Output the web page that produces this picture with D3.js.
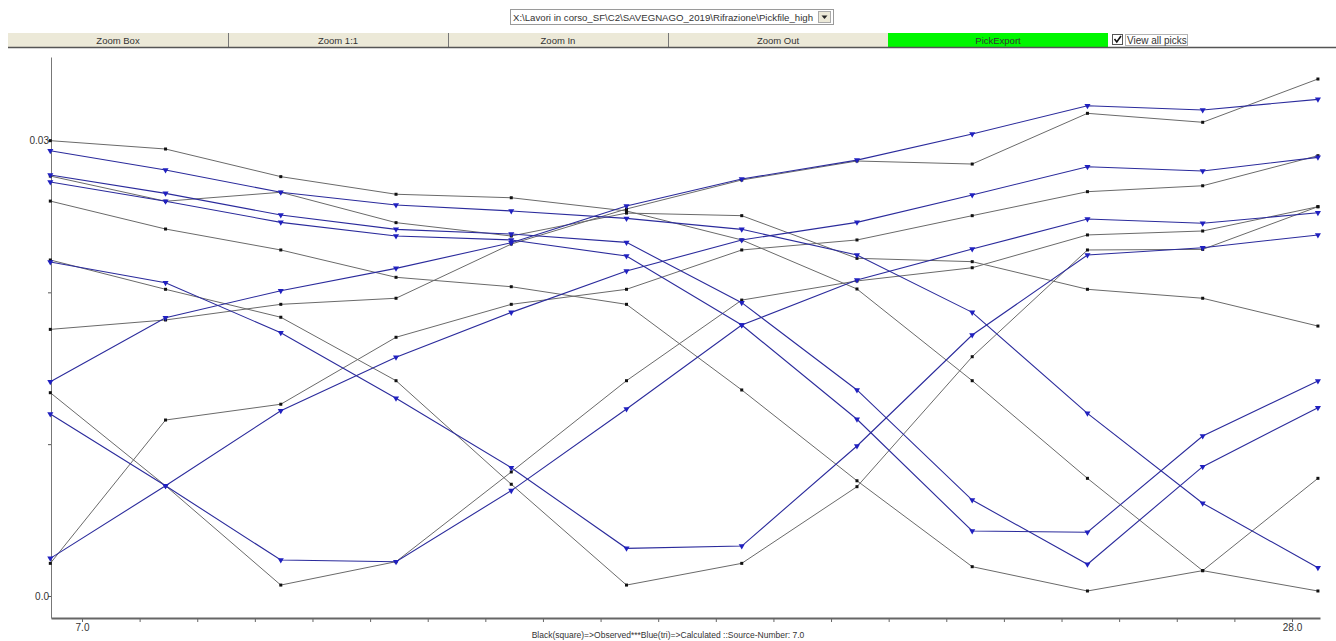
<!DOCTYPE html>
<html><head><meta charset="utf-8">
<script src="https://cdn.jsdelivr.net/npm/d3@7"></script>
<style>
body{margin:0;background:#fff;}
svg text{font-family:"Liberation Sans Narrow","Arial Narrow","Liberation Sans",sans-serif;fill:#333;}
</style></head><body>
<svg id="c" width="1336" height="641"></svg>
<script>
// geophone positions (m)
const geophones = [6.45, 8.45, 10.45, 12.45, 14.45, 16.45, 18.45, 20.45, 22.45, 24.45, 26.45, 28.45];
// x tick values and labels
const xTicks = [7,8,9,10,11,12,13,14,15,16,17,18,19,20,21,22,23,24,25,26,27,28];
const xTickLabels = {7:"7.0", 28:"28.0"};
const yTicks = [0, 0.01, 0.02, 0.03];
const yTickLabels = {0:"0.0", 0.03:"0.03"};

// calculated travel times (s)
const calc1 = [0.00248,0.00726,0.01220,0.01572,0.01868,0.02140,0.02345,0.02461,0.02641,0.02827,0.02799,0.02889];
const calc2 = [0.01411,0.01833,0.02011,0.02158,0.02327,0.02569,0.02746,0.02871,0.03043,0.03229,0.03201,0.03271];
const calc3 = [0.01199,0.00726,0.00237,0.00226,0.00694,0.01232,0.01785,0.02081,0.02285,0.02483,0.02455,0.02524];
const calc4 = [0.02200,0.02063,0.01734,0.01302,0.00845,0.00314,0.00329,0.00988,0.01719,0.02246,0.02294,0.02378];
const calc5 = [0.02727,0.02600,0.02461,0.02371,0.02345,0.02239,0.01785,0.01164,0.00428,0.00420,0.01054,0.01416];
const calc6 = [0.02773,0.02652,0.02509,0.02415,0.02384,0.02329,0.01932,0.01357,0.00632,0.00209,0.00852,0.01240];
const calc7 = [0.02933,0.02806,0.02659,0.02575,0.02536,0.02487,0.02415,0.02246,0.01868,0.01203,0.00611,0.00186];

// observed travel times (s)
const obs1 = [0.00215,0.01159,0.01263,0.01704,0.01921,0.02020,0.02279,0.02345,0.02505,0.02663,0.02702,0.02900];
const obs2 = [0.01756,0.01818,0.01921,0.01961,0.02318,0.02549,0.02740,0.02865,0.02845,0.03179,0.03120,0.03405];
const obs3 = [0.01339,0.00726,0.00072,0.00226,0.00817,0.01418,0.01949,0.02075,0.02162,0.02378,0.02404,0.02564];
const obs4 = [0.02213,0.02020,0.01836,0.01418,0.00736,0.00072,0.00215,0.00720,0.01576,0.02279,0.02283,0.02564];
const obs5 = [0.02766,0.02600,0.02659,0.02459,0.02371,0.02522,0.02505,0.02224,0.02202,0.02020,0.01961,0.01778];
const obs6 = [0.02601,0.02417,0.02279,0.02099,0.02037,0.01921,0.01357,0.00759,0.00193,0.00033,0.00167,0.00775];
const obs7 = [0.02999,0.02944,0.02762,0.02646,0.02623,0.02536,0.02345,0.02022,0.01418,0.00775,0.00167,0.00033];

const observedSeries = [obs1,obs2,obs3,obs4,obs5,obs6,obs7];
const calculatedSeries = [calc1,calc2,calc3,calc4,calc5,calc6,calc7];

const toolbarButtons = ["Zoom Box","Zoom 1:1","Zoom In","Zoom Out","PickExport"];
const filePath = "X:\\Lavori in corso_SF\\C2\\SAVEGNAGO_2019\\Rifrazione\\Pickfile_high";
const caption = "Black(square)=>Observed***Blue(tri)=>Calculated ::Source-Number: 7.0";

const svg = d3.select("#c");

// ---- top controls ----
const dd = svg.append("g");
dd.append("rect").attr("x",510.5).attr("y",9.5).attr("width",323).attr("height",15)
  .attr("fill","#fff").attr("stroke","#9a9a9a");
dd.append("text").attr("x",513).attr("y",20.5).attr("font-size",9.5).attr("textLength",300).attr("lengthAdjust","spacingAndGlyphs").text(filePath);
dd.append("rect").attr("x",818.5).attr("y",11.5).attr("width",12).attr("height",11)
  .attr("fill","#ece9d8").attr("stroke","#aaa");
dd.append("path").attr("d","M821.5,15.5 L827.5,15.5 L824.5,19 Z").attr("fill","#222");

const tb = svg.append("g");
const bw = 220, bx0 = 8;
toolbarButtons.forEach((b,i)=>{
  const x0 = bx0 + i*bw;
  tb.append("rect").attr("x",x0).attr("y",33).attr("width",bw).attr("height",14)
    .attr("fill", b==="PickExport" ? "#00f700" : "#ece9d8");
  if (i>0 && b!=="PickExport") tb.append("line").attr("x1",x0+0.5).attr("x2",x0+0.5).attr("y1",33).attr("y2",47).attr("stroke","#777");
  tb.append("text").attr("x",x0+bw/2).attr("y",43.5).attr("text-anchor","middle")
    .attr("font-size",9.5).attr("fill", b==="PickExport" ? "#2a6a2a" : "#333").text(b);
});
tb.append("line").attr("x1",8).attr("x2",1336).attr("y1",47.5).attr("y2",47.5).attr("stroke","#555").attr("stroke-width",1.6);
// checkbox
tb.append("rect").attr("x",1112.5).attr("y",34.5).attr("width",10).attr("height",10).attr("fill","#fff").attr("stroke","#555");
tb.append("path").attr("d","M1114.5,39 L1116.8,42 L1121,36").attr("fill","none").attr("stroke","#111").attr("stroke-width",1.6);
tb.append("text").attr("x",1127).attr("y",43.5).attr("font-size",10).attr("fill","#555").text("View all picks");
tb.append("rect").attr("x",1125.5).attr("y",34.5).attr("width",62).attr("height",11).attr("fill","none")
  .attr("stroke","#666").attr("stroke-dasharray","1,1");

// ---- plot ----
const x = d3.scaleLinear().domain([6.462, 28.486]).range([51, 1320]);
const y = d3.scaleLinear().domain([-0.001449, 0.0355]).range([618, 57]);

const gx = svg.append("g").attr("transform","translate(0,618)")
  .call(d3.axisBottom(x).tickValues(xTicks).tickSize(4).tickSizeOuter(0)
    .tickFormat(d => xTickLabels[d] || ""));
gx.select(".domain").attr("stroke","#666").attr("stroke-width",2);
gx.selectAll(".tick line").attr("stroke","#666");
gx.selectAll(".tick text").attr("font-size",10).attr("dy","0.55em").attr("font-family","Liberation Sans Narrow, Arial Narrow, sans-serif").attr("fill","#333");

const gy = svg.append("g").attr("transform","translate(51,0)")
  .call(d3.axisLeft(y).tickValues(yTicks).tickSize(3).tickSizeOuter(0)
    .tickFormat(d => yTickLabels[d] || ""));
gy.select(".domain").attr("stroke","#777").attr("stroke-width",1);
gy.selectAll(".tick line").attr("stroke","#555");
gy.selectAll(".tick text").attr("font-size",10).attr("x",-2).attr("font-family","Liberation Sans Narrow, Arial Narrow, sans-serif").attr("fill","#333");

const line = d3.line().x((d,i)=>x(geophones[i])).y(d=>y(d));

const plot = svg.append("g");
observedSeries.forEach(s=>{
  plot.append("path").datum(s).attr("d",line).attr("fill","none").attr("stroke","#6a6a6a").attr("stroke-width",1);
});
calculatedSeries.forEach(s=>{
  plot.append("path").datum(s).attr("d",line).attr("fill","none").attr("stroke","#2b2b9c").attr("stroke-width",1.1);
});
observedSeries.forEach(s=>{
  plot.selectAll(null).data(s).enter().append("rect")
    .attr("x",(d,i)=>x(geophones[i])-1.5).attr("y",d=>y(d)-1.5).attr("width",3).attr("height",3).attr("fill","#111");
});
const tri = d3.symbol().type(d3.symbolTriangle).size(16);
calculatedSeries.forEach(s=>{
  plot.selectAll(null).data(s).enter().append("path").attr("d",tri)
    .attr("transform",(d,i)=>`translate(${x(geophones[i])},${y(d)}) rotate(180)`).attr("fill","#2020c0");
});

svg.append("text").attr("x",668).attr("y",638).attr("text-anchor","middle").attr("font-size",8.5).attr("fill","#444").text(caption);
</script>
</body></html>
